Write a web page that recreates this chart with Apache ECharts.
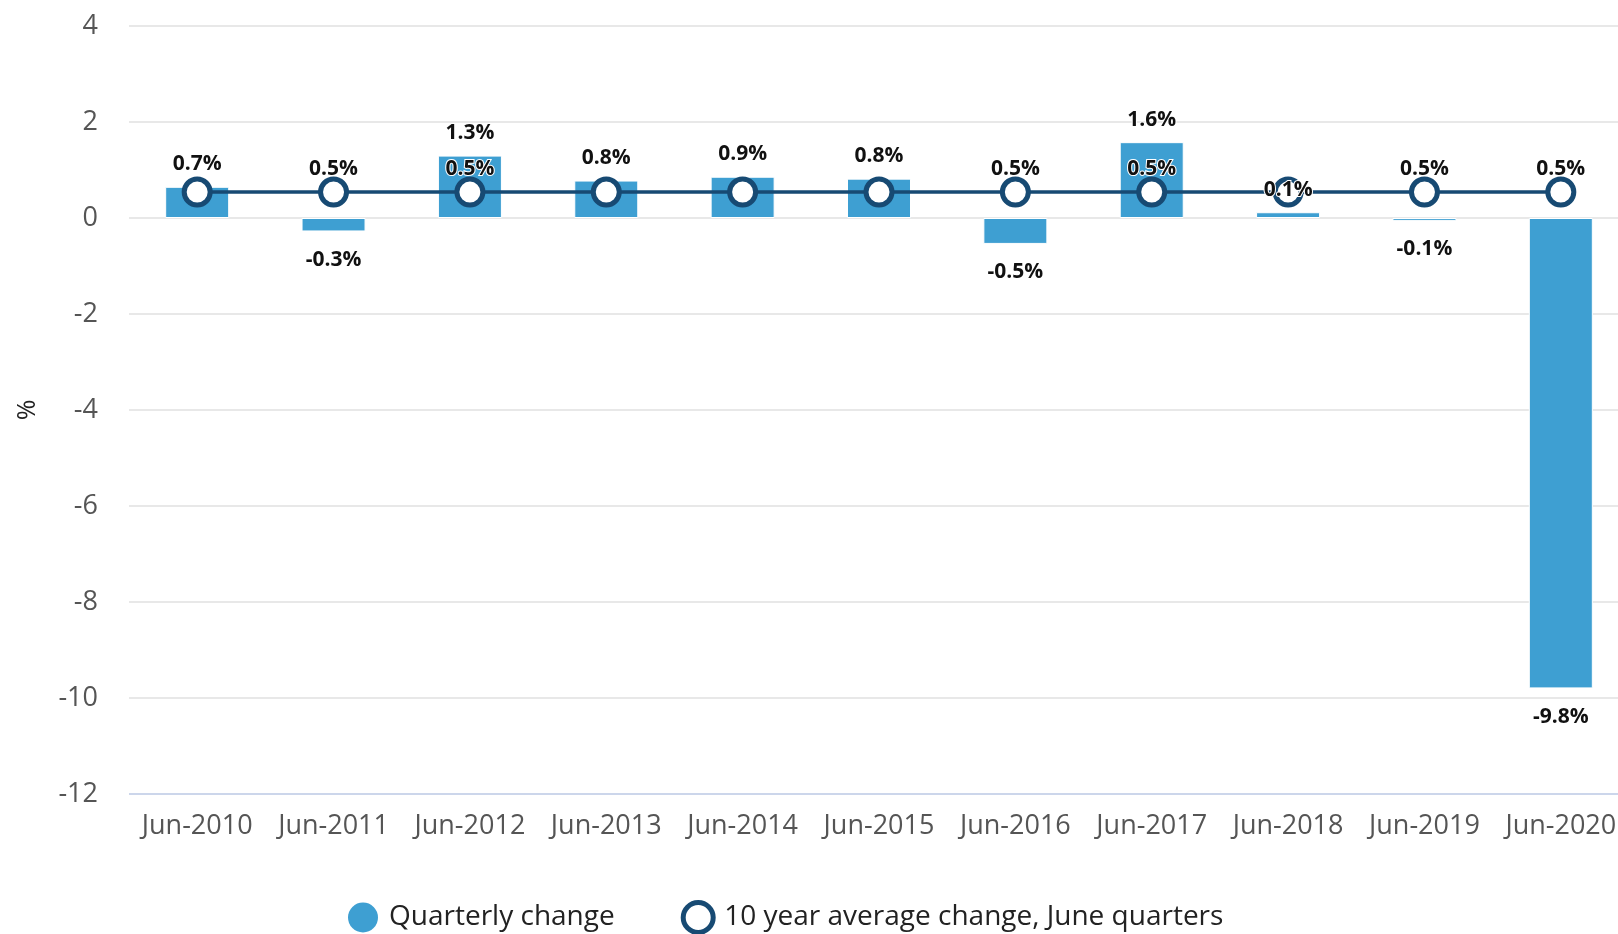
<!DOCTYPE html>
<html>
<head>
<meta charset="utf-8">
<script src="https://cdn.jsdelivr.net/npm/echarts@6/dist/echarts.min.js"></script>
<style>
	html, body { margin: 0; padding: 0; background: #ffffff; }
	#chart { width: 1618px; height: 934px; }
</style>
</head>
<body>
<div id="chart"></div>
<script>
const categories = ['Jun-2010', 'Jun-2011', 'Jun-2012', 'Jun-2013', 'Jun-2014', 'Jun-2015', 'Jun-2016', 'Jun-2017', 'Jun-2018', 'Jun-2019', 'Jun-2020'];
const quarterlyChange = [0.65, -0.28, 1.3, 0.78, 0.86, 0.82, -0.54, 1.58, 0.12, -0.06, -9.8];
const tenYearAverage = [0.54, 0.54, 0.54, 0.54, 0.54, 0.54, 0.54, 0.54, 0.54, 0.54, 0.54];
const yTicks = { min: -12, max: 4, interval: 2 };

const colors = {
	bar: '#3e9fd2',
	line: '#174a73',
	text: '#111111',
	axisText: '#555555',
	grid: '#e8e8e8',
	axisLine: '#ccd6eb'
};

const font = '"Open Sans", "Noto Sans", sans-serif';

const chart = echarts.init(document.querySelector('#chart'));

function pct(v) {
	return v.toFixed(1) + '%';
}

// the average label is hidden where the bar label sits on top of it
function avgLabelVisible(i) {
	const v = quarterlyChange[i];
	return v <= 0 || v >= 1.2;
}

const labelStyle = {
	color: colors.text,
	fontSize: 21,
	fontWeight: 'bold',
	textBorderColor: '#ffffff',
	textBorderWidth: 2
};

const option = {
	animation: false,
	textStyle: { fontFamily: font },
	grid: {
		left: 129,
		right: -11,
		top: 26,
		bottom: 140,
		outerBoundsMode: 'none'
	},
	legend: {
		top: 895,
		left: 343,
		itemGap: 66,
		itemWidth: 30,
		itemHeight: 30,
		textStyle: {
			fontSize: 28,
			color: '#222222',
			fontFamily: font,
			padding: [0, 0, 0, 6]
		},
		data: [
			{
				name: 'Quarterly change',
				icon: 'circle',
				itemStyle: { color: colors.bar, borderWidth: 0 }
			},
			{
				name: '10 year average change, June quarters',
				icon: 'circle',
				itemStyle: { color: '#ffffff', borderColor: colors.line, borderWidth: 5 }
			}
		]
	},
	xAxis: {
		type: 'category',
		data: categories,
		axisTick: { show: false },
		axisLine: { show: false },
		axisLabel: {
			color: colors.axisText,
			fontSize: 27,
			margin: 19,
			interval: 0
		}
	},
	yAxis: {
		type: 'value',
		min: yTicks.min,
		max: yTicks.max,
		interval: yTicks.interval,
		name: '%',
		nameLocation: 'middle',
		nameRotate: 90,
		nameGap: 89,
		nameTextStyle: {
			fontSize: 25,
			color: '#222222'
		},
		axisLabel: {
			color: colors.axisText,
			fontSize: 27,
			margin: 31
		},
		splitLine: {
			lineStyle: { color: colors.grid, width: 2 }
		}
	},
	series: [
		{
			name: 'Quarterly change',
			type: 'bar',
			barWidth: 64,
			itemStyle: {
				color: colors.bar,
				borderColor: '#ffffff',
				borderWidth: 1
			},
			data: quarterlyChange,
			z: 2
		},
		{
			name: '10 year average change, June quarters',
			type: 'line',
			symbol: 'circle',
			symbolSize: 26,
			lineStyle: { color: colors.line, width: 3.5 },
			itemStyle: {
				color: '#ffffff',
				borderColor: colors.line,
				borderWidth: 5
			},
			data: tenYearAverage.map((v, i) => ({
				value: v,
				label: Object.assign({
					show: avgLabelVisible(i),
					position: 'top',
					distance: -3,
					formatter: p => pct(p.value)
				}, labelStyle)
			})),
			z: 3
		},
		{
			// transparent twin of the bars, only to draw their labels above the line
			type: 'bar',
			barWidth: 64,
			barGap: '-100%',
			silent: true,
			itemStyle: { color: 'rgba(0,0,0,0)' },
			data: quarterlyChange.map(v => ({
				value: v,
				label: Object.assign({
					show: true,
					position: v < 0 ? 'bottom' : 'top',
					distance: v < 0 ? 18 : 12,
					formatter: p => pct(p.value)
				}, labelStyle)
			})),
			z: 4
		},
		{
			// axis baseline at the bottom of the plot
			type: 'line',
			silent: true,
			symbol: 'none',
			data: [],
			markLine: {
				silent: true,
				symbol: 'none',
				label: { show: false },
				lineStyle: { color: colors.axisLine, width: 2, type: 'solid' },
				data: [{ yAxis: yTicks.min }]
			}
		}
	]
};

chart.setOption(option);
</script>
</body>
</html>
